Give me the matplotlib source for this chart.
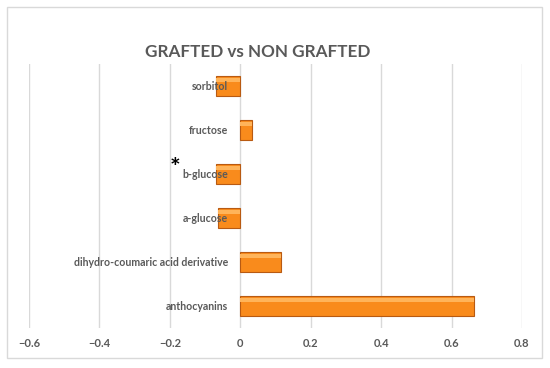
import matplotlib.pyplot as plt
from matplotlib.patches import Rectangle

categories = ['anthocyanins', 'dihydro-coumaric acid derivative', 'a-glucose',
              'b-glucose', 'fructose', 'sorbitol']
values = [0.665, 0.117, -0.064, -0.069, 0.033, -0.069]
xticks = [-0.6, -0.4, -0.2, 0, 0.2, 0.4, 0.6, 0.8]
xticklabels = ['\u22120.6', '\u22120.4', '\u22120.2', '0', '0.2', '0.4', '0.6', '0.8']
star_cat = 'b-glucose'

grey = '#595959'
plt.rcParams['font.family'] = ['Lato', 'DejaVu Sans']

fig = plt.figure(figsize=(5.5, 3.68), dpi=100)
fig.patches.append(Rectangle((7 / 550, 1 - 358 / 368), 535 / 550, 351 / 368,
                             transform=fig.transFigure, fill=False,
                             ec='#D9D9D9', lw=1))
ax = fig.add_axes([29 / 550, 1 - 328 / 368, 493 / 550, 264 / 368])
ax.spines['left'].set_position(('data', 0))
for s in ax.spines.values():
    s.set_visible(False)
ax.set_axisbelow(False)

# gridlines behind bars, tick labels above them
for xt in xticks:
    ax.axvline(xt, color='#D9D9D9', lw=1, zorder=1)

pos = list(range(len(categories)))
ax.barh(pos, values, height=0.46, color='#F98B1C', edgecolor='#B85A12',
        linewidth=0.8, zorder=2)
# glossy top highlight
ax.barh([p + 0.13 for p in pos], values, height=0.1, color='#FFB45A',
        linewidth=0, zorder=2.1)

ax.set_xlim(-0.6, 0.8)
ax.set_ylim(-0.5, len(categories) - 0.5)
ax.set_xticks(xticks)
ax.set_xticklabels(xticklabels, fontsize=8, fontweight='bold', color=grey)
ax.set_yticks(pos)
ax.set_yticklabels(categories, fontsize=7.6, fontweight='bold', color=grey)
ax.tick_params(axis='both', length=0)
ax.tick_params(axis='y', pad=9)
ax.tick_params(axis='x', pad=7)

ax.text(-0.185, categories.index(star_cat) + 0.12, '*', fontsize=18,
        color='black', ha='center', va='center', fontweight='bold', zorder=5)

fig.text(257.5 / 550, 1 - 52 / 368, 'GRAFTED vs NON GRAFTED', fontsize=12.3,
         fontweight='bold', color=grey, ha='center', va='center')

fig.savefig('out.png', dpi=100)
